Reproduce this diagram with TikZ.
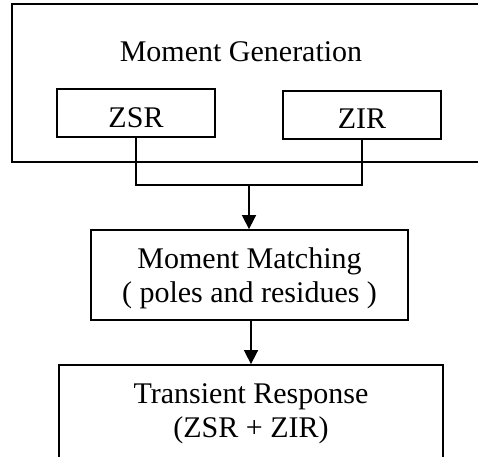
\documentclass[tikz,border=0pt]{standalone}
\usepackage{fontspec}
\setmainfont{Liberation Serif}
\usetikzlibrary{arrows.meta}
\begin{document}
\begin{tikzpicture}[x=1pt,y=-1pt,
  box/.style={draw=black,line width=1.8pt,rectangle,inner sep=0pt},
  lbl/.style={inner sep=0pt,anchor=base,font=\fontsize{30}{34.5}\selectfont},
  conn/.style={draw=black,line width=1.6pt},
  arr/.style={conn,-{Triangle[length=14pt,width=14pt]}}]
\useasboundingbox (0,0) rectangle (478,456);
\clip (0,0) rectangle (478,456);
\node[box,minimum width=470pt,minimum height=158pt] (gen) at (247,83) {};
\node[lbl] (gentitle) at (241,61) {Moment Generation};
\node[box,minimum width=158pt,minimum height=48pt] (zsr) at (136,113) {};
\node[lbl] (zsrlbl) at (136,127) {ZSR};
\node[box,minimum width=158pt,minimum height=48pt] (zir) at (362,115) {};
\node[lbl] (zirlbl) at (362,128) {ZIR};
\node[box,minimum width=317pt,minimum height=90pt] (match) at (249.5,275) {};
\node[lbl] (matchA) at (249.5,268) {Moment Matching};
\node[lbl] (matchB) at (249.5,302) {( poles and residues )};
\node[box,minimum width=384pt,minimum height=100pt] (trans) at (251,415) {};
\node[lbl] (transA) at (251,403) {Transient Response};
\node[lbl] (transB) at (251,437) {(ZSR + ZIR)};
\coordinate (j) at (249,185);
\draw[conn] (zsr.south) |- (j) -| (zir.south);
\draw[arr] (j) -- (j |- match.north);
\draw[arr] (match.south -| 251,0) -- (251,0 |- trans.north);
\end{tikzpicture}
\end{document}
